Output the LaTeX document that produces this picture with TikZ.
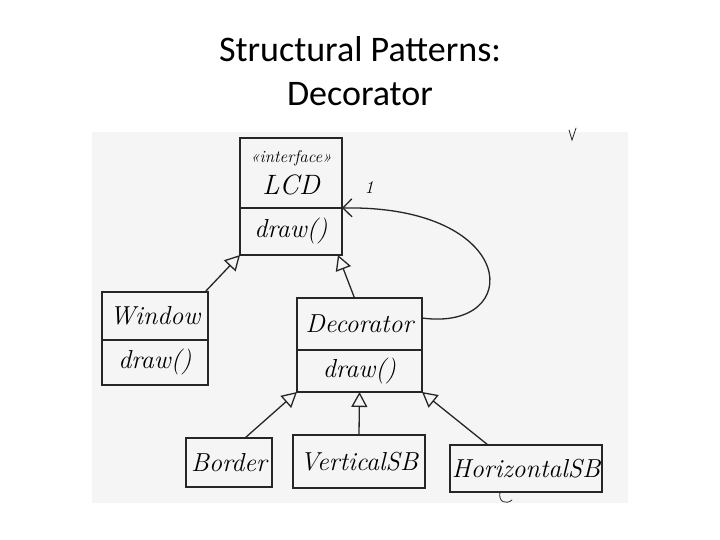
\documentclass[tikz,border=0pt]{standalone}
\usepackage{fontspec}
\newfontfamily\titlefont{Carlito}
\usetikzlibrary{arrows.meta}

\begin{document}
\begin{tikzpicture}[x=1pt,y=-1pt,line cap=round,
  ink/.style={draw=black!85,line width=1.3pt},
  box/.style={ink,inner sep=0pt,outer sep=0pt,anchor=north west,align=center,
    font=\itshape\fontsize{26}{29}\selectfont},
  ops/.style={box,font=\itshape\fontsize{26}{28}\selectfont},
  inherit/.style={ink,-{Triangle[open,length=15pt,width=16pt]}},
  holds/.style={ink,-{Straight Barb[length=9pt,width=18pt]}}]
\useasboundingbox (0,0) rectangle (720,540);
\fill[white!96!black] (92,132) rectangle (628,503);

\node[anchor=base,font=\titlefont\fontsize{36}{44}\selectfont] (title) at (360,62) {Structural Patterns:};
\node[anchor=base,font=\titlefont\fontsize{36}{44}\selectfont] (subtitle) at (360,106) {Decorator};

\node[box,minimum width=102pt,minimum height=70pt] (lcd) at (240,138)
  {{\fontsize{17}{19}\selectfont «interface»}\\[3pt]{\fontsize{28}{30}\selectfont LCD}};
\node[ops,minimum width=102pt,minimum height=47pt] (lcdops) at (240,208) {draw()};

\node[box,minimum width=106pt,minimum height=48pt] (window) at (102,292) {Window};
\node[ops,minimum width=106pt,minimum height=45pt] (windowops) at (102,340) {draw()};

\node[box,minimum width=125pt,minimum height=52pt] (decorator) at (297,298) {Decorator};
\node[ops,minimum width=125pt,minimum height=42pt] (decoratorops) at (297,350) {draw()};

\node[box,minimum width=86pt,minimum height=49pt] (border) at (186,438) {Border};
\node[box,minimum width=132pt,minimum height=53pt] (vsb) at (293,435) {VerticalSB};
\node[box,minimum width=152pt,minimum height=47pt] (hsb) at (450,445) {HorizontalSB};

\draw[inherit] ([xshift=-3pt]window.north east) -- (lcdops.south west);
\draw[inherit] ([xshift=-5pt]decorator.north) -- ([xshift=-4pt]lcdops.south east);
\draw[inherit] ([xshift=16pt]border.north) -- (decoratorops.south west);
\draw[inherit] (vsb.north) -- (decoratorops.south);
\draw[inherit] ([xshift=-38pt]hsb.north) -- (decoratorops.south east);

\draw[holds] ([yshift=6pt]decorator.east) .. controls (525,332) and (520,205) .. (lcd.south east);
\node[font=\itshape\fontsize{18}{20}\selectfont] (mult) at (369,188) {1};

\draw[ink,line width=0.8pt] (569,130) -- (572,140) -- (576,128);
\draw[ink,line width=0.8pt] (500,492) .. controls (498,502) and (506,505) .. (512,500);
\end{tikzpicture}
\end{document}
